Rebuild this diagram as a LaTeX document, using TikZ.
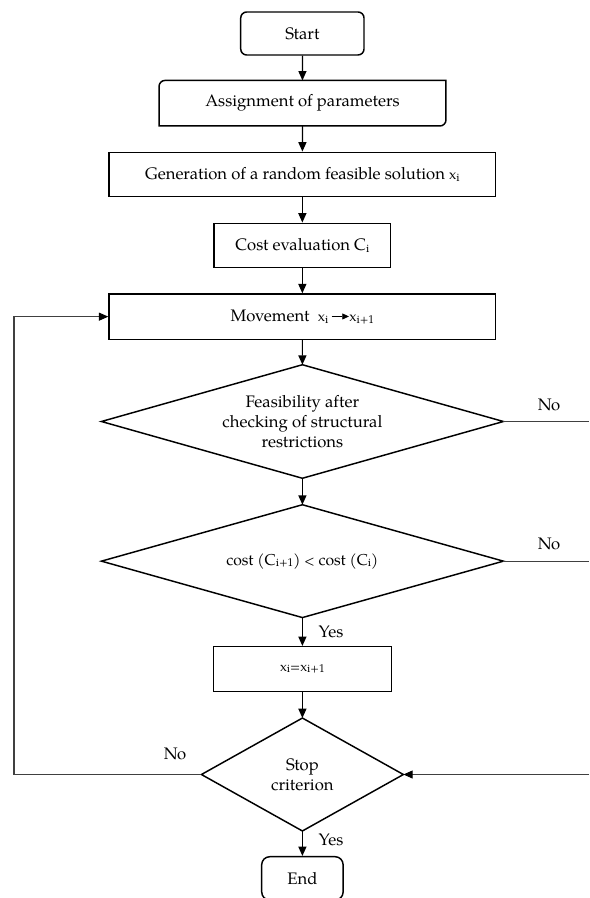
\documentclass[tikz,border=0pt]{standalone}
\usepackage{fontspec}
\setmainfont{TeX Gyre Pagella}
\usetikzlibrary{arrows.meta}
\newcommand\lowsub[1]{\raisebox{-0.25ex}{\fontsize{8.5}{9}\selectfont #1}}
\newcommand\smx{{\fontsize{10.5}{11}\selectfont x}}
\newcommand\inarrow{\tikz[baseline=-0.6ex]\draw[line width=0.6pt,-{Triangle[length=5pt,width=4.5pt]}](0,0)--(13pt,0);}
\tikzset{
  every node/.style={font=\fontsize{12.5}{15}\selectfont},
  sz/.style 2 args={minimum width=#1*0.75pt,minimum height=#2*0.75pt,inner sep=0pt,align=center},
  boxnode/.style={draw,line width=1.1pt},
  diag/.style={line width=1.1pt,line join=miter},
  conn/.style={line width=0.9pt,-{Triangle[length=7pt,width=6pt]}},
  loopline/.style={line width=0.8pt,draw=black!75},
  lbl/.style={font=\fontsize{12.5}{15}\selectfont}
}
\begin{document}
\begin{tikzpicture}[x=0.75pt,y=-0.75pt]
\useasboundingbox (0,0) rectangle (589,898);
% nodes
\node[sz={123.3}{43},boxnode,rounded corners=4.5pt] (start) at (302.35,33.5) {Start};
\node[sz={286.4}{45}] (assign) at (302.5,103.2) {Assignment of parameters};
\draw[line width=1.1pt] (assign.south west) -- ([yshift=-4.5pt]assign.north west)
  arc[start angle=180,end angle=90,radius=4.5pt] -- (assign.north east)
  -- ([yshift=4.5pt]assign.south east) arc[start angle=0,end angle=-90,radius=4.5pt] -- cycle;
\node[sz={386.7}{44.4},boxnode] (gen) at (302.35,174.5) {Generation of a random feasible solution \smx\lowsub{i}};
\node[sz={176.7}{44.4},boxnode] (cost) at (302.35,245.5) {Cost evaluation C\lowsub{i}};
\node[sz={386.7}{45.3},boxnode] (move) at (302.35,316.65) {Movement\ \ \smx\lowsub{i}\,\inarrow\smx\lowsub{i+1}};
\node[sz={401.4}{113}] (feas) at (302.4,421.5) {Feasibility after\\checking of structural\\restrictions};
\draw[diag] (feas.north) -- (feas.east) -- (feas.south) -- (feas.west) -- cycle;
\node[sz={401.4}{112.3},font=\fontsize{11.8}{14}\selectfont] (cmp) at (302.4,561.15) {cost (C\lowsub{i+1}) {\fontsize{10}{12}\selectfont<} cost (C\lowsub{i})};
\draw[diag] (cmp.north) -- (cmp.east) -- (cmp.south) -- (cmp.west) -- cycle;
\node[sz={178.2}{45},boxnode,font=\fontsize{10}{12}\selectfont] (upd) at (302.4,669.2) {x\lowsub{i}=x\lowsub{i+1}};
\node[sz={201.4}{112.4}] (stop) at (302.4,774.5) {Stop\\criterion};
\draw[diag] (stop.north) -- (stop.east) -- (stop.south) -- (stop.west) -- cycle;
\node[sz={81.4}{43.3},boxnode,rounded corners=6pt] (end) at (302.4,878.35) {End};
% free ends
\coordinate (feasout) at (589,421.5);
\coordinate (cmpout) at (589,561.15);
\coordinate (stopin) at (589,774.5);
\coordinate (loopc) at (14,774.5);
% connectors
\draw[conn] (start) -- (assign);
\draw[conn] (assign) -- (gen);
\draw[conn] (gen) -- (cost);
\draw[conn] (cost) -- (move);
\draw[conn] (move) -- (feas.north);
\draw[conn] (feas.south) -- (cmp.north);
\draw[conn] (cmp.south) -- (upd);
\draw[conn] (upd) -- (stop.north);
\draw[conn] (stop.south) -- (end);
\draw[loopline] (feas.east) -- (feasout);
\draw[loopline] (cmp.east) -- (cmpout);
\draw[loopline,-{Triangle[length=7pt,width=6pt,fill=black,color=black]}] (stopin) -- (stop.east);
\draw[loopline,-{Triangle[length=7pt,width=6pt,fill=black,color=black]}] (stop.west) -- (loopc) |- (move.west);
% labels
\node[lbl] (no1) at (549,405) {No};
\node[lbl] (no2) at (549,544) {No};
\node[lbl] (yes1) at (331,631.7) {Yes};
\node[lbl] (no3) at (175,754.3) {No};
\node[lbl] (yes2) at (331,840) {Yes};
\end{tikzpicture}
\end{document}
